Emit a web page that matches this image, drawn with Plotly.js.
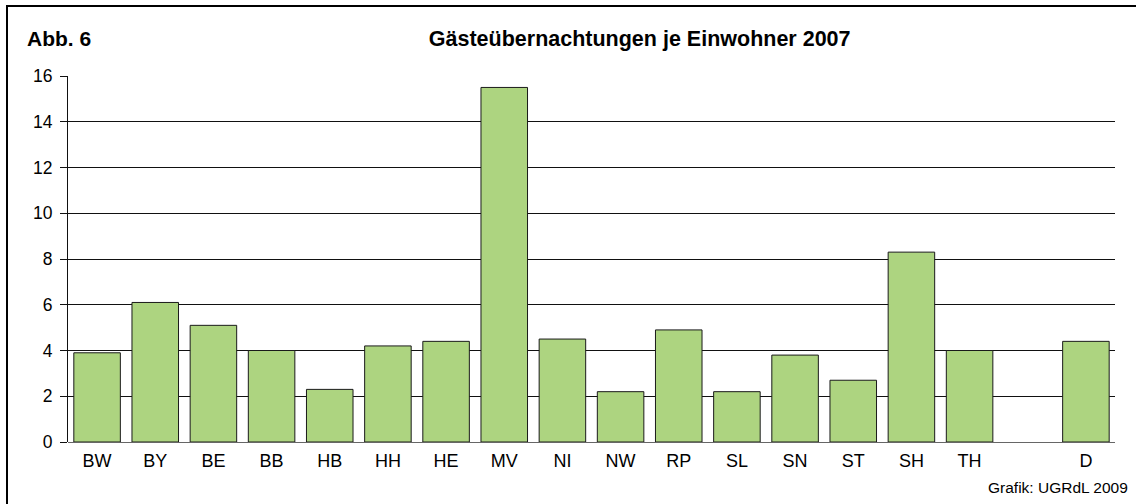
<!DOCTYPE html>
<html>
<head>
<meta charset="utf-8">
<script src="https://cdn.plot.ly/plotly-3.0.1.min.js"></script>
<style>
  html, body { margin: 0; padding: 0; background: #fff; }
  #wrap { position: relative; width: 1136px; height: 504px; overflow: hidden; }
  #chart { position: absolute; left: 0; top: 0; width: 1136px; height: 504px; }
  #frame { position: absolute; left: 6px; top: 5px; width: 1140px; height: 510px;
           border-left: 2px solid #000; border-top: 2px solid #000; pointer-events: none; }
</style>
</head>
<body>
<div id="wrap">
  <div id="chart"></div>
  <div id="frame"></div>
</div>
<script>
// Data
const categories = ['BW','BY','BE','BB','HB','HH','HE','MV','NI','NW','RP','SL','SN','ST','SH','TH',' ','D'];
const values     = [3.9, 6.1, 5.1, 4.0, 2.3, 4.2, 4.4, 15.5, 4.5, 2.2, 4.9, 2.2, 3.8, 2.7, 8.3, 4.0, null, 4.4];
const yTicks     = [0, 2, 4, 6, 8, 10, 12, 14, 16];
const figLabel   = 'Abb. 6';
const chartTitle = 'Gästeübernachtungen je Einwohner 2007';
const sourceText = 'Grafik: UGRdL 2009';

const FONT = '"Liberation Sans", Arial, Helvetica, sans-serif';

const trace = {
  type: 'bar',
  x: categories,
  y: values,
  marker: { color: '#ADD480', line: { color: '#1a1a1a', width: 1 } },
  hoverinfo: 'x+y'
};

const layout = {
  width: 1136,
  height: 504,
  margin: { l: 68, r: 21, t: 76, b: 62, pad: 0 },
  paper_bgcolor: '#fff',
  plot_bgcolor: '#fff',
  font: { family: FONT, color: '#000', size: 17.5 },
  showlegend: false,
  bargap: 0.2,
  title: {
    text: '<b>' + chartTitle + '</b>',
    font: { family: FONT, size: 21.5, color: '#000' },
    xref: 'paper', x: 0.546, xanchor: 'center',
    yref: 'container', y: 1 - 38/504, yanchor: 'middle'
  },
  xaxis: {
    type: 'category',
    categoryorder: 'array',
    categoryarray: categories,
    showgrid: false,
    ticks: '',
    showline: false,
    zeroline: false,
    ticklabelstandoff: 6,
    tickfont: { family: FONT, size: 18, color: '#000' },
    fixedrange: true
  },
  yaxis: {
    range: [0, 16],
    tickvals: yTicks,
    ticktext: yTicks.map(String),
    showgrid: true,
    gridcolor: '#111',
    gridwidth: 1,
    zeroline: true,
    zerolinecolor: '#666',
    zerolinewidth: 1,
    showline: true,
    linecolor: '#111',
    linewidth: 1,
    ticks: 'outside',
    ticklen: 7,
    tickcolor: '#111',
    tickwidth: 1,
    ticklabelstandoff: 4,
    tickfont: { family: FONT, size: 17.5, color: '#000' },
    fixedrange: true
  },
  annotations: [
    {
      text: '<b>' + figLabel + '</b>',
      xref: 'paper', yref: 'paper',
      x: (25 - 68) / 1047, xanchor: 'left',
      y: 1 + (76 - 38) / 366, yanchor: 'middle',
      showarrow: false,
      font: { family: FONT, size: 21, color: '#000' }
    },
    {
      text: sourceText,
      xref: 'paper', yref: 'paper',
      x: 1 + (1130 - 1115) / 1047, xanchor: 'right',
      y: -(487 - 442) / 366, yanchor: 'middle',
      showarrow: false,
      font: { family: FONT, size: 15.5, color: '#000' }
    }
  ]
};

Plotly.newPlot('chart', [trace], layout, { displayModeBar: false, staticPlot: true });
</script>
</body>
</html>
